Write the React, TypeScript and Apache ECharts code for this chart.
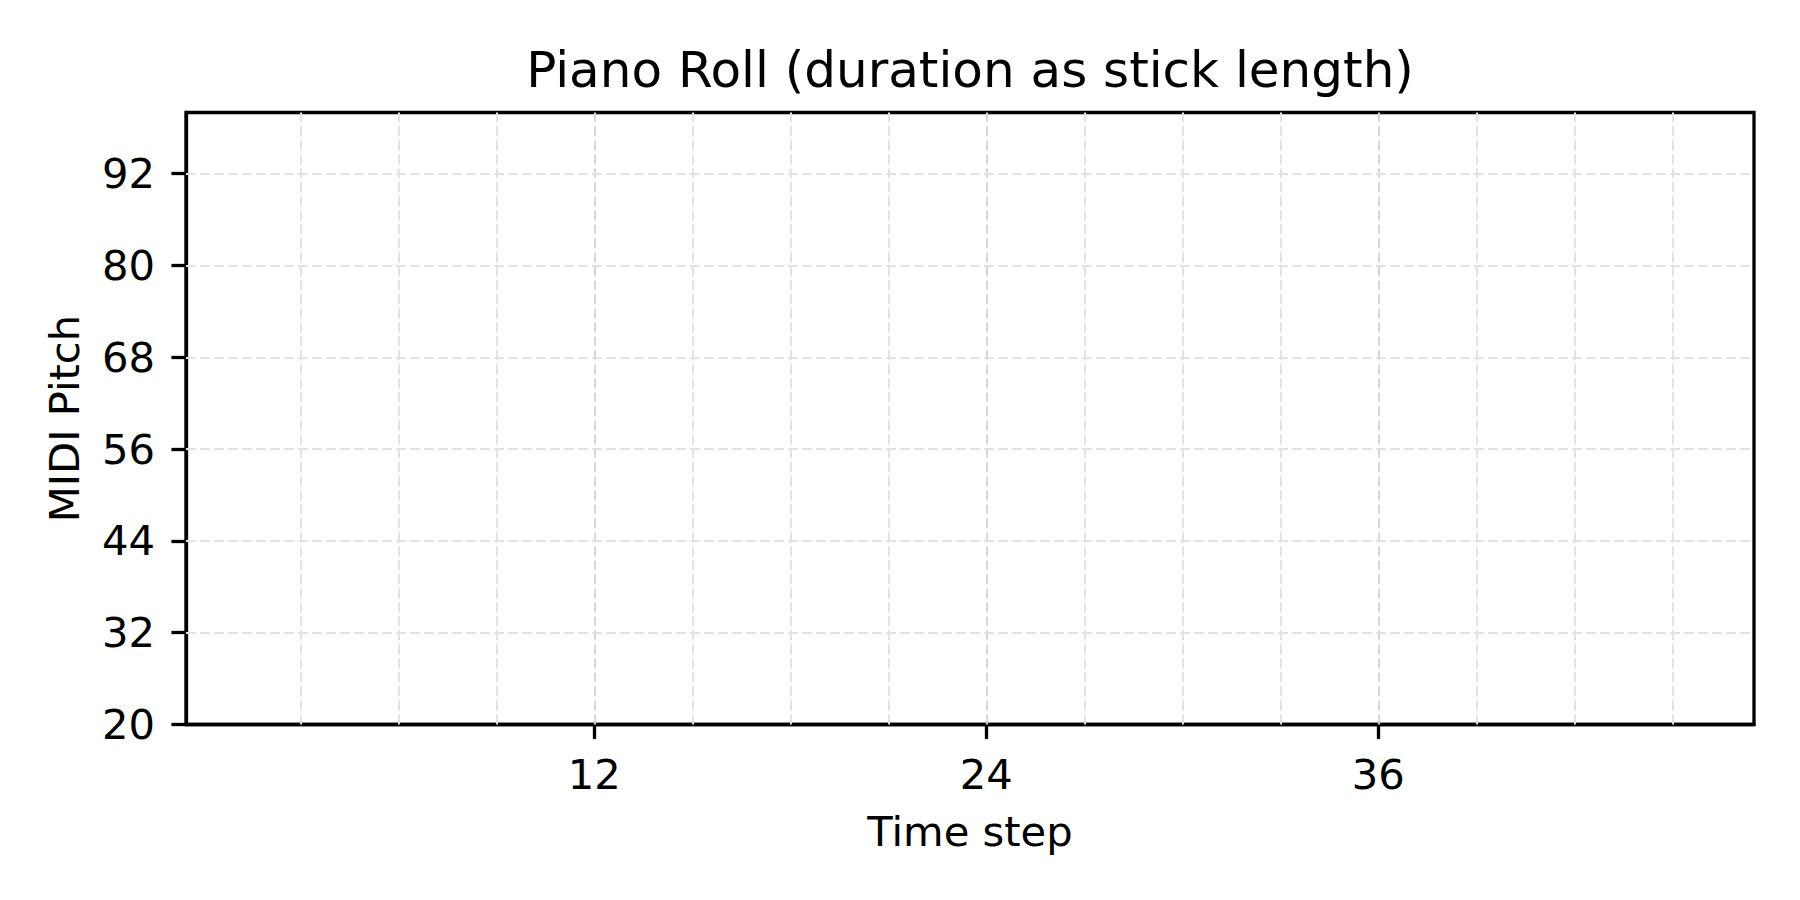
import React, { useEffect, useRef } from "react";
import * as echarts from "echarts";

// ---- data ----
const titleText = "Piano Roll (duration as stick length)";
const xAxisName = "Time step";
const yAxisName = "MIDI Pitch";
const xRange = [-0.5, 47.5];
const yRange = [20, 100];
const xTickValues = [12, 24, 36];
const yTickValues = [20, 32, 44, 56, 68, 80, 92];
const xMinorGrid = [3, 6, 9, 15, 18, 21, 27, 30, 33, 39, 42, 45];
const xMajorGrid = [12, 24, 36];
const yGrid = [32, 44, 56, 68, 80, 92];
// notes (none are drawn in the reference)
const noteStarts: number[] = [];
const notePitches: number[] = [];
const noteDurations: number[] = [];

const FONT = "DejaVu Sans";

export default function App() {
  const ref = useRef<HTMLDivElement>(null);
  useEffect(() => {
    if (!ref.current) return;
    const chart = echarts.init(ref.current, undefined, { renderer: "svg" });
    const notes = noteStarts.map((s, i) => [s, notePitches[i], noteDurations[i]]);
    const gridStyleMinor = { color: "#e2e2e2", width: 2, type: [10, 4] as any };
    const gridStyleMajor = { color: "#d6d6d6", width: 2, type: [10, 4] as any };
    const markData: any[] = [
      ...xMinorGrid.map((v) => ({ xAxis: v, lineStyle: gridStyleMinor })),
      ...xMajorGrid.map((v) => ({ xAxis: v, lineStyle: gridStyleMajor })),
      ...yGrid.map((v) => ({ yAxis: v, lineStyle: gridStyleMinor })),
    ];
    chart.setOption({
      animation: false,
      backgroundColor: "#ffffff",
      textStyle: { fontFamily: FONT },
      title: {
        text: titleText,
        left: 965,
        textAlign: "center",
        top: 40,
        textStyle: { fontFamily: FONT, fontSize: 50, fontWeight: "normal", color: "#000", lineHeight: 50 },
      },
      grid: {
        left: 186,
        top: 112.5,
        width: 1568,
        height: 612,
        show: true,
        borderColor: "#000",
        borderWidth: 3.3,
        containLabel: false,
      },
      xAxis: {
        type: "value",
        min: xRange[0],
        max: xRange[1],
        name: xAxisName,
        nameLocation: "middle",
        nameGap: 86,
        nameTextStyle: { fontFamily: FONT, fontSize: 41.7, color: "#000" },
        axisLine: { show: true, onZero: false, lineStyle: { color: "#000", width: 3.3 } },
        axisTick: { show: true, length: 14.6, lineStyle: { color: "#000", width: 3.3 }, customValues: xTickValues },
        axisLabel: { fontFamily: FONT, fontSize: 41.7, color: "#000", margin: 29, customValues: xTickValues },
        splitLine: { show: false },
      },
      yAxis: {
        type: "value",
        min: yRange[0],
        max: yRange[1],
        name: yAxisName,
        nameLocation: "middle",
        nameGap: 101,
        nameTextStyle: { fontFamily: FONT, fontSize: 41.7, color: "#000" },
        axisLine: { show: true, onZero: false, lineStyle: { color: "#000", width: 3.3 } },
        axisTick: { show: true, length: 14.6, lineStyle: { color: "#000", width: 3.3 }, customValues: yTickValues },
        axisLabel: { fontFamily: FONT, fontSize: 41.7, color: "#000", margin: 31, customValues: yTickValues },
        splitLine: { show: false },
      },
      series: [
        {
          type: "custom",
          name: "notes",
          data: notes,
          renderItem: (params: any, api: any) => {
            const start = api.coord([api.value(0), api.value(1)]);
            const end = api.coord([api.value(0) + api.value(2), api.value(1)]);
            return {
              type: "line",
              shape: { x1: start[0], y1: start[1], x2: end[0], y2: end[1] },
              style: { stroke: "#1f77b4", lineWidth: 6 },
            };
          },
          markLine: {
            silent: true,
            symbol: ["none", "none"],
            label: { show: false },
            emphasis: { disabled: true },
            data: markData,
          },
          z: 1,
        },
      ],
    });
    return () => chart.dispose();
  }, []);
  return (
    <div
      ref={ref}
      style={{ position: "fixed", left: 0, top: 0, width: 1800, height: 900, background: "#fff" }}
    />
  );
}
